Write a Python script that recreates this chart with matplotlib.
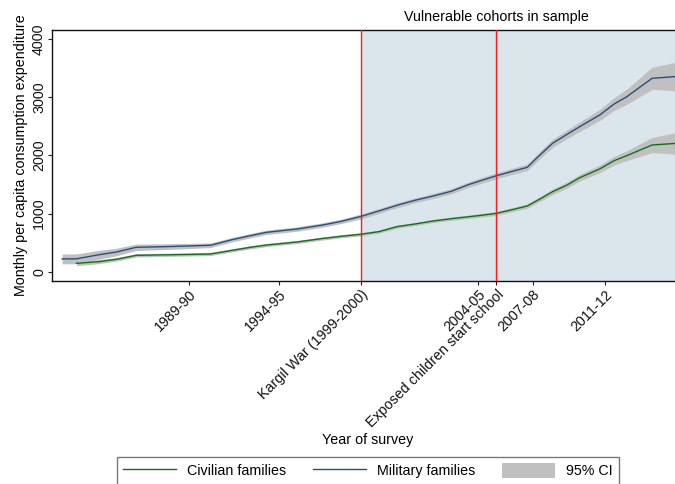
import numpy as np
import matplotlib
matplotlib.use("Agg")
import matplotlib.pyplot as plt
from matplotlib.lines import Line2D
from matplotlib.patches import Patch

plt.rcParams['font.family'] = ['Liberation Sans', 'DejaVu Sans']

# Survey position (NSS round scale) and smoothed MPCE by household type
survey_x = [38.0, 38.8, 40.0, 41.0, 42.1, 43.6, 45.0, 46.2, 47.4, 48.4, 49.3, 51.0,
            52.4, 53.4, 54.5, 55.5, 56.5, 57.5, 58.5, 59.5, 60.5, 61.3, 62.0, 62.8,
            63.7, 64.4, 65.1, 65.9, 66.6, 67.7, 68.5, 69.2, 70.6, 72.0]

military_mpce = [220, 222, 290, 339, 420, 430, 443, 455, 552, 620, 678, 735,
                 804, 865, 950, 1045, 1143, 1229, 1303, 1384, 1504, 1584, 1652, 1721,
                 1797, 2009, 2210, 2365, 2496, 2697, 2886, 3012, 3329, 3360]
military_ci_half = [85, 85, 75, 65, 55, 50, 45, 40, 38, 38, 38, 38,
                    38, 38, 42, 42, 42, 42, 42, 45, 47, 50, 52, 52,
                    57, 62, 70, 75, 82, 95, 110, 130, 190, 250]

civilian_mpce = [np.nan, 144, 172, 213, 282, 290, 297, 305, 368, 420, 459, 512,
                 572, 609, 644, 689, 775, 821, 873, 912, 947, 976, 1005, 1062,
                 1131, 1251, 1377, 1492, 1618, 1768, 1911, 1997, 2181, 2210]
civilian_ci_half = [np.nan, 40, 35, 30, 28, 27, 27, 27, 27, 27, 27, 27,
                    27, 27, 27, 27, 27, 27, 28, 30, 30, 32, 32, 35,
                    37, 42, 47, 52, 57, 65, 75, 85, 130, 190]

tick_pos = [45, 50, 54.5, 61, 62, 64, 68]
tick_labels = ['1989-90', '1994-95', 'Kargil War (1999-2000)', '2004-05',
               'Exposed children start school', '2007-08', '2011-12']
kargil_x = 54.5
school_x = 62.0
y_ticks = [0, 1000, 2000, 3000, 4000]

x = np.array(survey_x)
mil = np.array(military_mpce, dtype=float)
mil_h = np.array(military_ci_half, dtype=float)
civ = np.array(civilian_mpce, dtype=float)
civ_h = np.array(civilian_ci_half, dtype=float)

FS = 10.3
W, H = 675, 484
fig = plt.figure(figsize=(W / 100, H / 100), dpi=100)
ax_left, ax_right, ax_top, ax_bottom = 52.3, 690, 30, 280.7
ax = fig.add_axes([ax_left / W, 1 - ax_bottom / H,
                   (ax_right - ax_left) / W, (ax_bottom - ax_top) / H])

x_lo = 37.46
x_hi = x_lo + (ax_right - ax_left) / 18.1
ax.set_xlim(x_lo, x_hi)
ax.set_ylim(-155, 4160)

# Period during which the vulnerable cohorts are observed
ax.axvspan(kargil_x, x_hi + 5, color='#dae5ec', zorder=0, lw=0)

ci_color = '#c0c0c0'
ax.fill_between(x, mil - mil_h, mil + mil_h, color=ci_color, lw=0, zorder=1)
ax.fill_between(x, civ - civ_h, civ + civ_h, color=ci_color, lw=0, zorder=1)
ax.plot(x, civ, color='#13701a', lw=1.0, zorder=3)
ax.plot(x, mil, color='#284f7c', lw=1.0, zorder=3)

ax.axvline(kargil_x, color='#ff1a1a', lw=1.0, zorder=4)
ax.axvline(school_x, color='#ff1a1a', lw=1.0, zorder=4)

ax.set_yticks(y_ticks)
ax.set_yticklabels([str(v) for v in y_ticks], rotation=90, va='center', fontsize=FS)
ax.set_xticks(tick_pos)
ax.set_xticklabels(tick_labels, rotation=45, ha='right', rotation_mode='anchor',
                   fontsize=FS)
ax.tick_params(axis='both', direction='out', length=3, width=0.8, colors='#222222',
               labelcolor='#111111')
ax.tick_params(axis='x', pad=2)
ax.tick_params(axis='y', pad=1.5)

for s in ['top', 'left', 'bottom']:
    ax.spines[s].set_linewidth(1.0)
    ax.spines[s].set_color('#111111')
ax.spines['right'].set_visible(False)

ax.set_ylabel('Monthly per capita consumption expenditure', fontsize=FS, labelpad=3)
fig.text(368 / W, 1 - 440 / H, 'Year of survey', ha='center', va='center', fontsize=FS)
fig.text(496 / W, 1 - 17 / H, 'Vulnerable cohorts in sample', ha='center',
         va='center', fontsize=FS)

handles = [Line2D([], [], color='#13701a', lw=1.0),
           Line2D([], [], color='#284f7c', lw=1.0),
           Patch(facecolor=ci_color, edgecolor='none')]
labels = ['Civilian families', 'Military families', '95% CI']
leg = fig.legend(handles, labels, ncol=3, loc='upper left',
                 bbox_to_anchor=(116.5 / W, 1 - 457 / H),
                 frameon=True, fancybox=False, fontsize=FS,
                 handlelength=3.7, handleheight=1.15, handletextpad=0.75,
                 columnspacing=1.9, borderpad=0.45, borderaxespad=0)
leg.get_frame().set_edgecolor('#555555')
leg.get_frame().set_linewidth(1.0)

fig.savefig('out.png', dpi=100)
